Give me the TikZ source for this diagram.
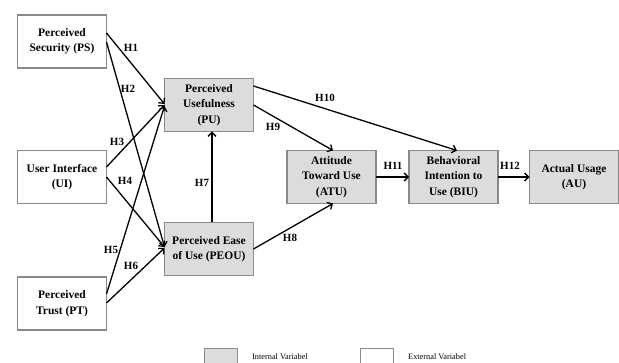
\documentclass[tikz,border=0pt]{standalone}
\usepackage{fontspec}
\setmainfont{Liberation Serif}
\usetikzlibrary{arrows.meta}
\definecolor{boxline}{HTML}{8A8A8A}
\definecolor{boxfill}{HTML}{DCDCDC}
\tikzset{
  vbox/.style={draw=boxline, line width=1.2pt, minimum width=89pt, minimum height=53pt,
    inner sep=1pt, align=center, font=\fontsize{11.5}{15.5}\selectfont\bfseries, outer sep=0pt},
  intbox/.style={vbox, fill=boxfill},
  extbox/.style={vbox, fill=white},
  arr/.style={line width=1.3pt, -{Straight Barb[length=4pt,width=8pt,line width=1.3pt]}},
  hlab/.style={font=\fontsize{11}{13}\selectfont\bfseries, inner sep=0pt},
  legbox/.style={draw=boxline, line width=1pt, minimum width=33pt, minimum height=18pt, inner sep=0pt},
  legtext/.style={font=\fontsize{8.3}{10}\selectfont, anchor=west, inner sep=0pt}
}
\begin{document}
\begin{tikzpicture}[x=1pt,y=-1pt]
\useasboundingbox (0,0) rectangle (619,363);
% nodes
\node[extbox] (ps) at (62,41.5) {Perceived\\Security (PS)};
\node[extbox] (ui) at (62,177) {User Interface\\(UI)};
\node[extbox] (pt) at (62,303.5) {Perceived\\Trust (PT)};
\node[intbox] (pu) at (209,105) {Perceived\\Usefulness\\(PU)};
\node[intbox] (peou) at (209,249) {Perceived Ease\\of Use (PEOU)};
\node[intbox] (atu) at (331.5,177) {Attitude\\Toward Use\\(ATU)};
\node[intbox] (biu) at (453.5,177) {Behavioral\\Intention to\\Use (BIU)};
\node[intbox] (au) at (574,177) {Actual Usage\\(AU)};
% arrows
\draw[arr] ([yshift=8.5pt]ps.east) -- ([yshift=1pt]pu.west);
\draw[arr] ([yshift=-0.5pt]ps.east) -- ([yshift=2pt]peou.west);
\draw[arr] ([yshift=10pt]ui.east) -- ([yshift=0pt]pu.west);
\draw[arr] (ui.east) -- ([yshift=2pt]peou.west);
\draw[arr] ([yshift=9.5pt]pt.east) -- ([yshift=-1pt]pu.west);
\draw[arr] ([yshift=0.5pt]pt.east) -- ([yshift=1pt]peou.west);
\draw[arr] ([xshift=3pt]peou.north) -- ([xshift=3pt]pu.south);
\draw[arr] (peou.east) -- ([xshift=1.5pt]atu.south);
\draw[arr] ([yshift=0pt]pu.east) -- ([xshift=1.5pt]atu.north);
\draw[arr] ([yshift=19pt]pu.east) -- ([xshift=3.5pt]biu.north);
\draw[arr] (atu.east) -- (biu.west);
\draw[arr] (biu.east) -- (au.west);
% labels
\node[hlab] (h1) at (131,48) {H1};
\node[hlab] (h2) at (128,89) {H2};
\node[hlab] (h3) at (117,142) {H3};
\node[hlab] (h4) at (125,181) {H4};
\node[hlab] (h5) at (111,250) {H5};
\node[hlab] (h6) at (131,266) {H6};
\node[hlab] (h7) at (202,183) {H7};
\node[hlab] (h8) at (290,238) {H8};
\node[hlab] (h9) at (273,127) {H9};
\node[hlab] (h10) at (325,98) {H10};
\node[hlab] (h11) at (393,166) {H11};
\node[hlab] (h12) at (510,166) {H12};
% legend
\node[legbox, fill=boxfill, anchor=north west] (li) at (204,348) {};
\node[legtext] (lit) at (252,357) {Internal Variabel};
\node[legbox, fill=white, anchor=north west] (le) at (360,348) {};
\node[legtext] (let) at (408,357) {External Variabel};
\end{tikzpicture}
\end{document}
